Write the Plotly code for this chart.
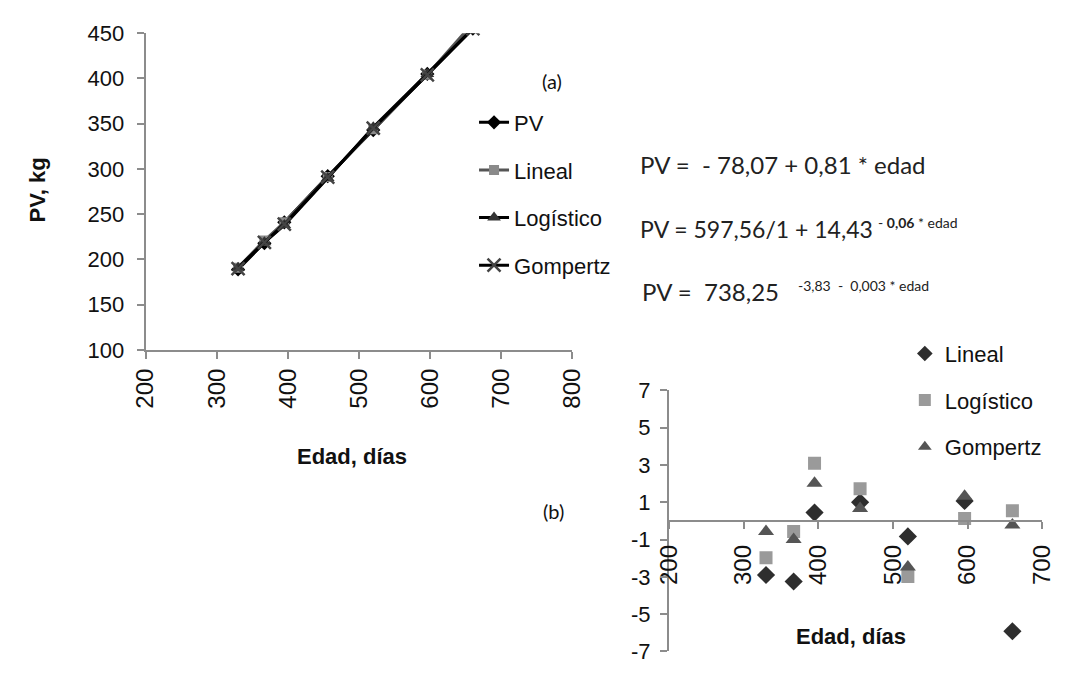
import plotly.graph_objects as go

# ---- data ----
edad = [330, 367, 395, 456, 520, 596, 660]
pv_obs = [189, 218, 241, 292, 343, 405, 455]
pv_lineal = [191, 221, 241, 291, 344, 404, 461]
pv_logistico = [191, 219, 238, 290, 346, 405, 455]
pv_gompertz = [190, 219, 239, 291, 345, 404, 455]

res_lineal = [-2.9, -3.25, 0.45, 1.0, -0.83, 1.07, -5.92]
res_logistico = [-1.98, -0.57, 3.1, 1.72, -2.98, 0.13, 0.55]
res_gompertz = [-0.57, -1.0, 2.02, 0.67, -2.47, 1.33, -0.22]

res_ticks = [7, 5, 3, 1, -1, -3, -5, -7]
res_ticktext = ["7", "5", "3", "1", "-1", "-3", "-5", "-7"]

W, H = 1065, 675
FONT = "Liberation Sans, Arial, sans-serif"
EQF = "Lato, Open Sans, sans-serif"
AX = "#8c8c8c"


def px(x):
    return x / W


def py(y):
    return 1 - y / H


fig = go.Figure()

# top chart traces
fig.add_trace(go.Scatter(x=edad, y=pv_obs, name="PV", mode="lines+markers",
                         line=dict(color="black", width=3),
                         marker=dict(symbol="diamond", size=11, color="black"),
                         xaxis="x", yaxis="y", legend="legend", legendgroup="a1"))
fig.add_trace(go.Scatter(x=edad, y=pv_lineal, name="Lineal", mode="lines+markers",
                         line=dict(color="#555555", width=3),
                         marker=dict(symbol="square", size=10, color="#8a8a8a"),
                         xaxis="x", yaxis="y", legend="legend", legendgroup="a2"))
fig.add_trace(go.Scatter(x=edad, y=pv_logistico, name="Logístico", mode="lines+markers",
                         line=dict(color="black", width=3),
                         marker=dict(symbol="triangle-up", size=12, color="#333333"),
                         xaxis="x", yaxis="y", legend="legend", legendgroup="a3"))
fig.add_trace(go.Scatter(x=edad, y=pv_gompertz, name="Gompertz", mode="lines+markers",
                         line=dict(color="black", width=3),
                         marker=dict(symbol="x-thin", size=13, color="#444444",
                                     line=dict(width=2.5, color="#444444")),
                         xaxis="x", yaxis="y", legend="legend", legendgroup="a4"))

# bottom chart traces
fig.add_trace(go.Scatter(x=edad, y=res_lineal, name="Lineal", mode="markers",
                         marker=dict(symbol="diamond", size=14, color="#2e2e2e"),
                         xaxis="x2", yaxis="y2", legend="legend2", legendgroup="b1"))
fig.add_trace(go.Scatter(x=edad, y=res_logistico, name="Logístico", mode="markers",
                         marker=dict(symbol="square", size=13, color="#9a9a9a"),
                         xaxis="x2", yaxis="y2", legend="legend2", legendgroup="b2"))
fig.add_trace(go.Scatter(x=edad, y=res_gompertz, name="Gompertz", mode="markers",
                         marker=dict(symbol="triangle-up", size=14, color="#555555"),
                         xaxis="x2", yaxis="y2", legend="legend2", legendgroup="b3"))

axis_common = dict(showgrid=False, zeroline=False, showline=True, linecolor=AX, linewidth=2,
                   ticks="outside", tickcolor=AX, tickwidth=2, ticklen=7)
xfont = dict(family=FONT, size=24, color="#111111")
yfont = dict(family=FONT, size=22, color="#111111")

fig.update_layout(
    width=W, height=H,
    margin=dict(l=0, r=0, t=0, b=0),
    paper_bgcolor="white", plot_bgcolor="white",
    xaxis=dict(domain=[px(135), px(573)], range=[200, 800], dtick=100, tickangle=-90,
               anchor="y", tickfont=xfont, **axis_common),
    yaxis=dict(domain=[py(351), py(22)], range=[100, 450], dtick=50, anchor="x",
               tickfont=yfont, ticklabelstandoff=8, **axis_common),
    xaxis2=dict(domain=[px(672), px(1055)], range=[200, 700], dtick=100, tickangle=-90,
                anchor="free", position=py(529), tickfont=xfont, ticklabelstandoff=6,
                **axis_common),
    yaxis2=dict(domain=[py(664), py(393)], range=[-7, 7], tickvals=res_ticks,
                ticktext=res_ticktext, anchor="x2", tickfont=yfont, ticklabelstandoff=5,
                **axis_common),
    legend=dict(x=px(472), y=py(93), xanchor="left", yanchor="top",
                font=dict(family=FONT, size=22, color="#111111"),
                bgcolor="rgba(0,0,0,0)", tracegroupgap=16, itemwidth=30),
    legend2=dict(x=px(914), y=py(333), xanchor="left", yanchor="top",
                 font=dict(family=FONT, size=22, color="#111111"),
                 bgcolor="rgba(0,0,0,0)", tracegroupgap=15, itemwidth=30,
                 itemsizing="constant"),
    showlegend=True,
)

ann = [
    dict(text="<b>PV, kg</b>", x=px(24), y=py(185), textangle=-90, size=22, fam=FONT),
    dict(text="<b>Edad, días</b>", x=px(347), y=py(462), size=22, fam=FONT),
    dict(text="<b>Edad, días</b>", x=px(859), y=py(648), size=22, fam=FONT),
    dict(text="(a)", x=px(552), y=py(72), size=20, fam=EQF),
    dict(text="(b)", x=px(554), y=py(518), size=20, fam=EQF),
]
for a in ann:
    fig.add_annotation(text=a["text"], x=a["x"], y=a["y"], xref="paper", yref="paper",
                       xanchor="center", yanchor="middle",
                       showarrow=False, textangle=a.get("textangle", 0),
                       font=dict(family=a["fam"], size=a["size"], color="#111111"))

eqs = [
    ("PV =  - 78,07 + 0,81 * edad", 640, 158, 24),
    ("PV = 597,56/1 + 14,43", 640, 225, 23),
    ("PV =  738,25", 642, 290, 24),
]
for t, x, y, s in eqs:
    fig.add_annotation(text=t, x=px(x), y=py(y), xref="paper", yref="paper",
                       xanchor="left", yanchor="middle",
                       showarrow=False, font=dict(family=EQF, size=s, color="#222222"))
sups = [
    ("- <b>0,06</b> * edad", 884, 219, 14),
    ("-3,83  -  0,003 * edad", 802, 284, 14),
]
for t, x, y, s in sups:
    fig.add_annotation(text=t, x=px(x), y=py(y), xref="paper", yref="paper",
                       xanchor="left", yanchor="middle",
                       showarrow=False, font=dict(family=EQF, size=s, color="#222222"))

fig.write_html("out.html")
